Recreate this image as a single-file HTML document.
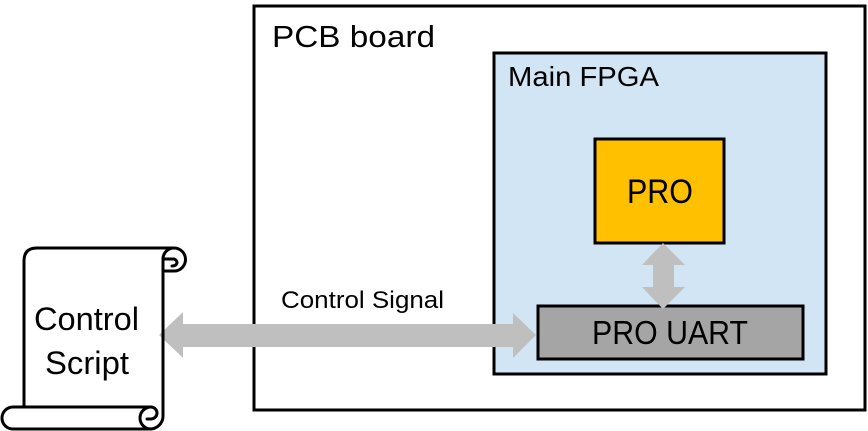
<!DOCTYPE html>
<html>
<head>
<meta charset="utf-8">
<style>
html,body{margin:0;padding:0;background:#fff;width:868px;height:431px;overflow:hidden}
svg{display:block}
text{font-family:"Liberation Sans",sans-serif;fill:#000}
</style>
</head>
<body>
<svg width="868" height="431" viewBox="0 0 868 431" xmlns="http://www.w3.org/2000/svg">
<rect x="254" y="6" width="611" height="404" fill="#fff" stroke="#000" stroke-width="3"/>
<rect x="494" y="53" width="332" height="321" fill="#d2e5f5" stroke="#000" stroke-width="3"/>
<rect x="595" y="139" width="129" height="104" fill="#ffc000" stroke="#000" stroke-width="3"/>
<rect x="538" y="306" width="265" height="53" fill="#a5a5a5" stroke="#000" stroke-width="3"/>
<polygon points="663,243 685,265 674,265 674,287 685,287 663,309 642,287 653,287 653,265 642,265" fill="#bfbfbf"/>
<polygon points="159,335 183,312 183,324 513,324 513,313 536,335 513,358 513,347 183,347 183,358" fill="#bfbfbf"/>
<g fill="none" stroke="#000" stroke-width="3" stroke-linejoin="round" stroke-linecap="round">
<path d="M24,407 V261 Q24,248 37,248 H174 A11.5,11.5 0 0 1 174,271 H163"/>
<path d="M163,259 A11,11 0 0 1 174,248"/>
<path d="M163,271 V259 H174 A4,4 0 0 1 177,263 Q176,266 172,266"/>
<path d="M163,271 V416 A13,13 0 0 1 150,429 H13 A11,11 0 0 1 13,407 H151 A6,6 0 0 1 151,419 H147"/>
<path d="M151,407 A11,11 0 0 0 151,429"/>
</g>
<text x="272" y="47" font-size="31" textLength="163" lengthAdjust="spacingAndGlyphs">PCB board</text>
<text x="508" y="86" font-size="28" textLength="151" lengthAdjust="spacingAndGlyphs">Main FPGA</text>
<text x="627" y="203" font-size="34" textLength="66" lengthAdjust="spacingAndGlyphs">PRO</text>
<text x="592" y="344" font-size="33" textLength="156" lengthAdjust="spacingAndGlyphs">PRO UART</text>
<text x="281" y="308" font-size="24" textLength="163" lengthAdjust="spacingAndGlyphs">Control Signal</text>
<text x="34" y="330" font-size="32" textLength="105" lengthAdjust="spacingAndGlyphs">Control</text>
<text x="45" y="374" font-size="32" textLength="84" lengthAdjust="spacingAndGlyphs">Script</text>
</svg>
</body>
</html>
